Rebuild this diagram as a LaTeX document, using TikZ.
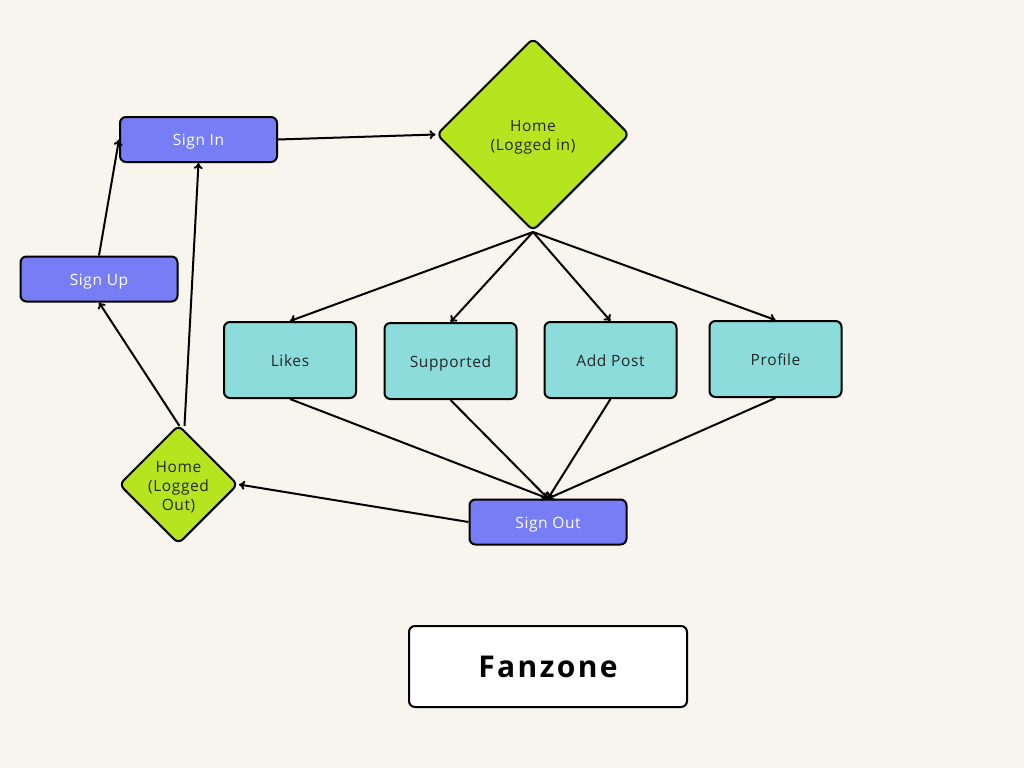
\documentclass[tikz,border=0pt]{standalone}
\usepackage{fontspec}
\setmainfont{Open Sans}[LetterSpace=4]
\newfontfamily\titlefont{Open Sans}[LetterSpace=8]
\usetikzlibrary{shapes.geometric,arrows.meta}
\definecolor{bgc}{HTML}{F8F4EE}
\definecolor{bluec}{HTML}{777EF5}
\definecolor{greenc}{HTML}{B6E51F}
\definecolor{tealc}{HTML}{8CDCDB}
\newcommand{\dtext}[1]{\raisebox{-3pt}[\height][\depth]{\begin{tabular}{@{}c@{}}#1\end{tabular}}}
\begin{document}
\begin{tikzpicture}[x=1pt,y=-1pt,
  every node/.style={font=\fontsize{15.5}{19}\selectfont},
  bluebox/.style={draw=black,line width=2pt,fill=bluec,rounded corners=6pt,text=white,minimum width=157pt,minimum height=45pt,inner sep=0pt,text height=12pt,text depth=0pt},
  tealbox/.style={draw=black,line width=2pt,fill=tealc,rounded corners=6pt,text=black!85,minimum width=132pt,minimum height=76pt,inner sep=0pt,text height=12pt,text depth=0pt},
  dia/.style={diamond,aspect=1,draw=black,line width=2pt,fill=greenc,rounded corners=6pt,text=black!85,inner sep=0pt,align=center},
  conn/.style={line width=2pt,-{To[length=6pt,width=9pt]}}
]
\fill[bgc] (0,0) rectangle (1024,768);
\useasboundingbox (0,0) rectangle (1024,768);

\node[bluebox] (signin) at (198.5,139.5) {Sign In};
\node[bluebox] (signup) at (99,279) {Sign Up};
\node[dia,minimum width=193pt,minimum height=193pt] (hli) at (533,134.5) {\dtext{Home\\(Logged in)}};
\node[tealbox] (likes) at (290,360) {Likes};
\node[tealbox] (supp) at (450.5,361) {Supported};
\node[tealbox] (addp) at (610.5,360) {Add Post};
\node[tealbox] (prof) at (775.5,359) {Profile};
\node[dia,minimum width=119pt,minimum height=119pt] (hlo) at (178.5,484.5) {\dtext{Home\\(Logged\\Out)}};
\node[bluebox] (signout) at (548,522) {Sign Out};
\node[draw=black,line width=2pt,fill=white,rounded corners=6pt,minimum width=278pt,minimum height=81pt,font=\titlefont\bfseries\fontsize{30}{36}\selectfont] (fan) at (548,666.5) {Fanzone};

\draw[conn] (signup.north) -- (signin.west);
\draw[conn] ([xshift=6pt,yshift=-2pt]hlo.north) -- (signin.south);
\draw[conn] ([xshift=1pt,yshift=-2pt]hlo.north) -- (signup.south);
\draw[conn] (signin.east) -- (hli.west);
\draw[conn] (hli.south) -- (likes.north);
\draw[conn] (hli.south) -- (supp.north);
\draw[conn] (hli.south) -- (addp.north);
\draw[conn] (hli.south) -- (prof.north);
\draw[conn] (likes.south) -- (signout.north);
\draw[conn] (supp.south) -- (signout.north);
\draw[conn] (addp.south) -- (signout.north);
\draw[conn] (prof.south) -- (signout.north);
\draw[conn] (signout.west) -- (hlo.east);
\end{tikzpicture}
\end{document}
